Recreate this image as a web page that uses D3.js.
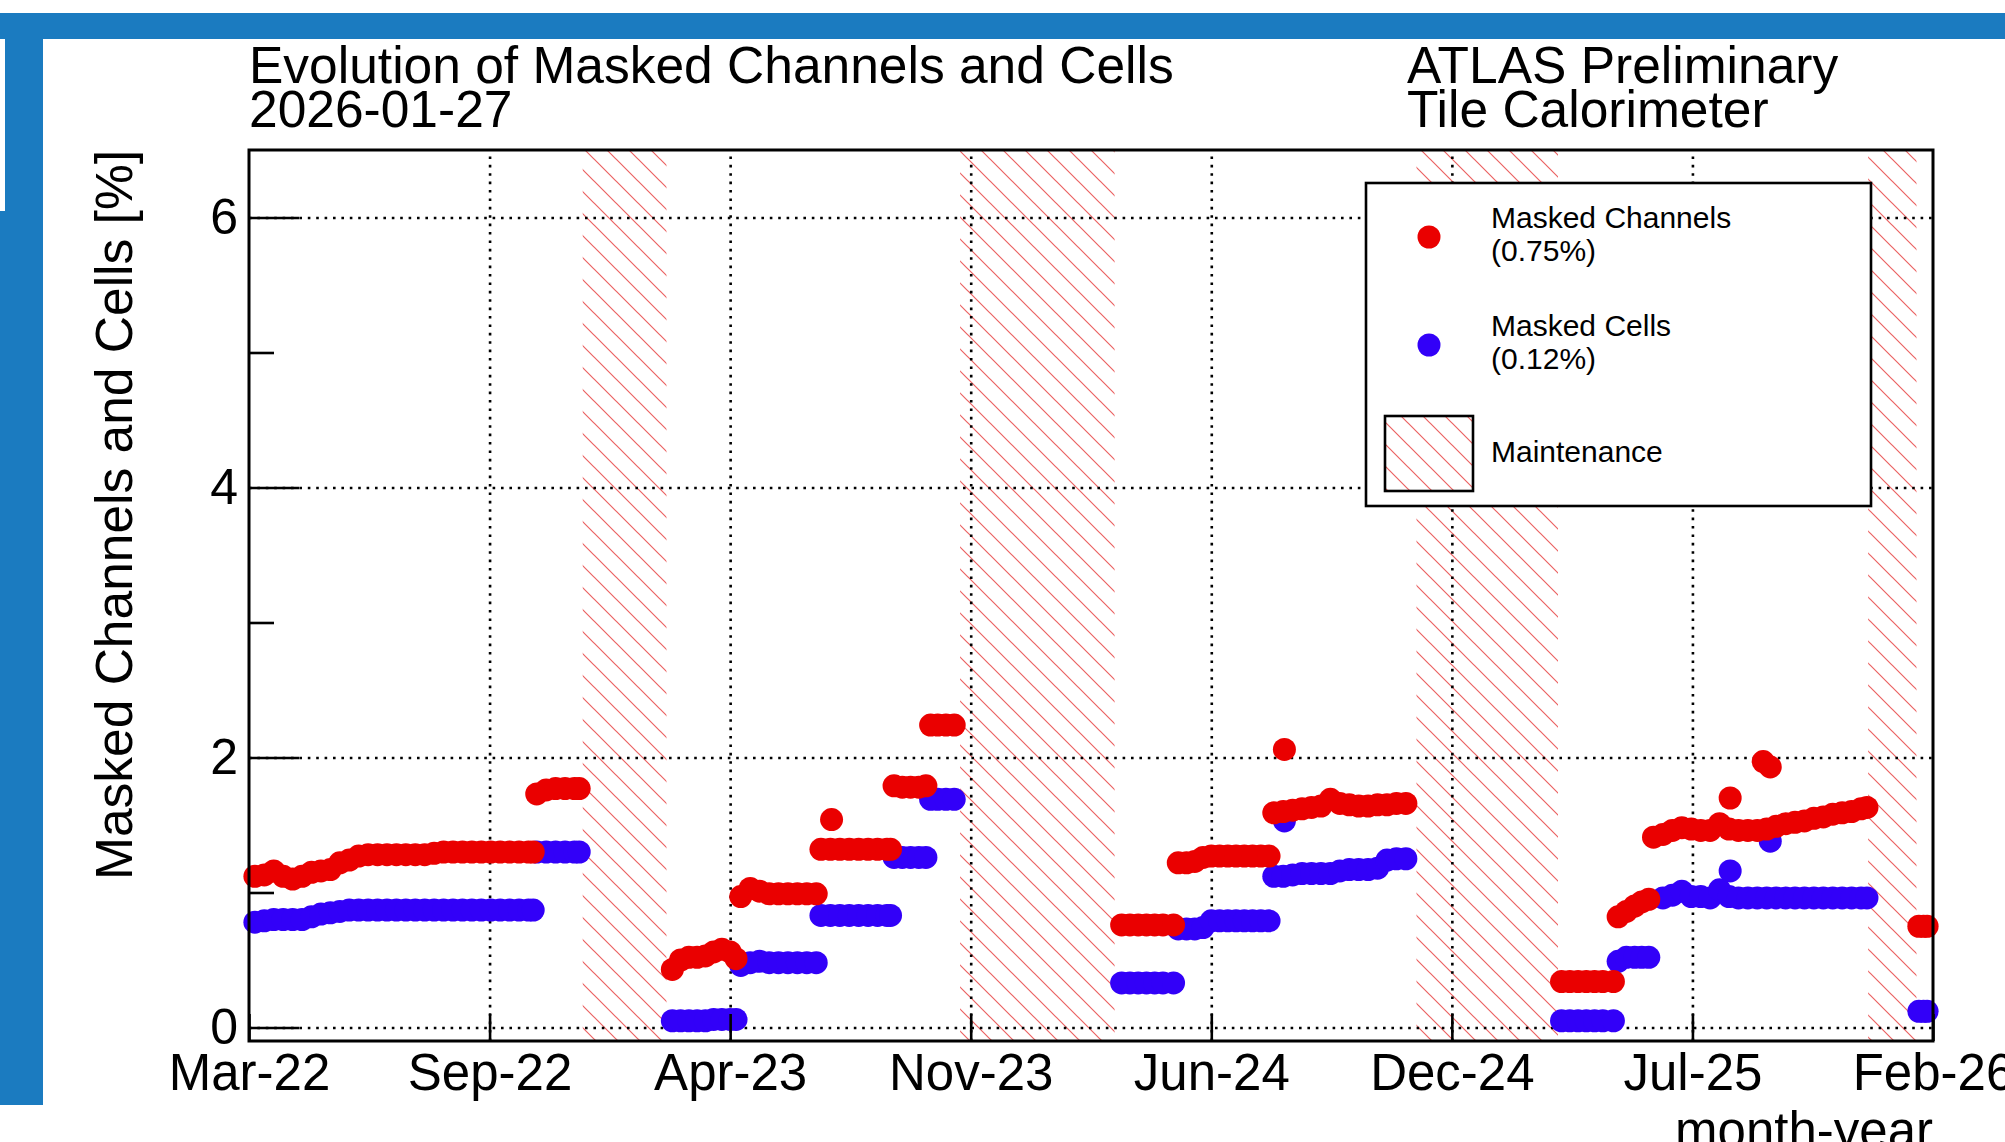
<!DOCTYPE html>
<html><head><meta charset="utf-8">
<script src="https://cdn.jsdelivr.net/npm/d3@7"></script>
<style>
html,body{margin:0;padding:0;background:#fff;overflow:hidden;}
svg{display:block;font-family:"Liberation Sans",Arial,Helvetica,sans-serif;}
</style></head><body>
<svg id="chart" width="2005" height="1142"></svg>
<script>
// ---------------- data ----------------
const dates = [
 "2022-03-15","2022-03-23","2022-03-31","2022-04-08","2022-04-16","2022-04-24","2022-05-02","2022-05-10","2022-05-18","2022-05-26",
 "2022-06-03","2022-06-11","2022-06-19","2022-06-27","2022-07-05","2022-07-13","2022-07-21","2022-07-29","2022-08-06","2022-08-14",
 "2022-08-22","2022-08-30","2022-09-07","2022-09-15","2022-09-23","2022-10-01","2022-10-09","2022-10-17","2022-10-25","2022-11-02","2022-11-06",
 "2022-11-09","2022-11-17","2022-11-25","2022-12-03","2022-12-11","2022-12-15",
 "2023-03-04","2023-03-11","2023-03-18","2023-03-25","2023-04-01","2023-04-08","2023-04-15","2023-04-22","2023-04-27",
 "2023-05-01","2023-05-09","2023-05-17","2023-05-25","2023-06-02","2023-06-10","2023-06-18","2023-06-26","2023-07-04",
 "2023-07-08","2023-07-16","2023-07-17","2023-07-24","2023-08-01","2023-08-09","2023-08-17","2023-08-25","2023-09-02","2023-09-05",
 "2023-09-08","2023-09-15","2023-09-22","2023-09-29","2023-10-05",
 "2023-10-09","2023-10-15","2023-10-22","2023-10-29",
 "2024-03-19","2024-03-26","2024-04-02","2024-04-09","2024-04-16","2024-04-23","2024-05-02",
 "2024-05-06","2024-05-13","2024-05-20","2024-05-27","2024-06-03","2024-06-10","2024-06-17","2024-06-24","2024-07-01","2024-07-08","2024-07-15","2024-07-22",
 "2024-07-26","2024-08-03","2024-08-04","2024-08-11","2024-08-19","2024-08-27","2024-09-04","2024-09-12","2024-09-20","2024-09-28","2024-10-06","2024-10-14","2024-10-22","2024-10-30","2024-11-07","2024-11-15",
 "2025-03-27","2025-04-03","2025-04-10","2025-04-17","2025-04-24","2025-05-01","2025-05-10",
 "2025-05-14","2025-05-21","2025-05-28","2025-06-03","2025-06-09",
 "2025-06-13","2025-06-21","2025-06-29","2025-07-07","2025-07-15","2025-07-23","2025-07-31","2025-08-08","2025-08-16","2025-08-17",
 "2025-08-24","2025-09-01","2025-09-09","2025-09-14","2025-09-17","2025-09-20","2025-09-25","2025-10-03","2025-10-11","2025-10-19",
 "2025-10-27","2025-11-04","2025-11-12","2025-11-20","2025-11-28","2025-12-06","2025-12-11",
 "2026-01-24","2026-01-28","2026-01-31"
];
const channels = [
 1.12,1.13,1.16,1.12,1.10,1.12,1.15,1.16,1.17,1.22,
 1.24,1.27,1.28,1.28,1.28,1.28,1.28,1.28,1.28,1.29,
 1.30,1.30,1.30,1.30,1.30,1.30,1.30,1.30,1.30,1.30,1.30,
 1.73,1.76,1.77,1.77,1.77,1.77,
 0.43,0.50,0.52,0.52,0.53,0.56,0.58,0.56,0.51,
 0.97,1.03,1.01,0.99,0.99,0.99,0.99,0.99,0.99,
 1.32,1.32,1.54,1.32,1.32,1.32,1.32,1.32,1.32,1.32,
 1.79,1.78,1.78,1.78,1.79,
 2.24,2.24,2.24,2.24,
 0.76,0.76,0.76,0.76,0.76,0.76,0.76,
 1.22,1.22,1.23,1.26,1.27,1.27,1.27,1.27,1.27,1.27,1.27,1.27,
 1.59,1.60,2.06,1.61,1.62,1.63,1.64,1.69,1.66,1.65,1.64,1.64,1.65,1.65,1.66,1.66,
 0.34,0.34,0.34,0.34,0.34,0.34,0.34,
 0.82,0.86,0.90,0.93,0.95,
 1.41,1.43,1.46,1.48,1.47,1.46,1.46,1.51,1.47,1.70,
 1.46,1.46,1.46,1.97,1.47,1.93,1.49,1.51,1.52,1.53,
 1.55,1.56,1.58,1.59,1.60,1.62,1.63,
 0.75,0.75,0.75
];
const cells = [
 0.78,0.79,0.80,0.80,0.80,0.80,0.82,0.84,0.85,0.86,
 0.87,0.87,0.87,0.87,0.87,0.87,0.87,0.87,0.87,0.87,
 0.87,0.87,0.87,0.87,0.87,0.87,0.87,0.87,0.87,0.87,0.87,
 1.30,1.30,1.30,1.30,1.30,1.30,
 0.05,0.05,0.05,0.05,0.05,0.06,0.06,0.06,0.06,
 0.46,0.48,0.49,0.48,0.48,0.48,0.48,0.48,0.48,
 0.83,0.83,null,0.83,0.83,0.83,0.83,0.83,0.83,0.83,
 1.26,1.26,1.26,1.26,1.26,
 1.69,1.69,1.69,1.69,
 0.33,0.33,0.33,0.33,0.33,0.33,0.33,
 0.73,0.73,0.73,0.74,0.79,0.79,0.79,0.79,0.79,0.79,0.79,0.79,
 1.12,1.12,1.53,1.13,1.14,1.14,1.14,1.14,1.16,1.17,1.17,1.17,1.18,1.24,1.25,1.25,
 0.05,0.05,0.05,0.05,0.05,0.05,0.05,
 0.49,0.52,0.52,0.52,0.52,
 null,0.96,0.98,1.01,0.97,0.97,0.96,1.02,0.97,1.16,
 0.96,0.96,0.96,null,0.96,1.38,0.96,0.96,0.96,0.96,
 0.96,0.96,0.96,0.96,0.96,0.96,0.96,
 0.12,0.12,0.12
];
const maintStart = ["2022-12-18","2023-11-03","2024-11-24","2025-12-12"];
const maintEnd   = ["2023-02-27","2024-03-13","2025-03-24","2026-01-22"];
const xDomain = ["2022-03-10","2026-02-05"];
const tickLabels = ["Mar-22","Sep-22","Apr-23","Nov-23","Jun-24","Dec-24","Jul-25","Feb-26"];
const yDomain = [-0.1, 6.5];
const yMajor = [0,2,4,6];
const yMinor = [1,3,5];
const seriesNames = ["Masked Channels","Masked Cells"];
const seriesCurrent = ["(0.75%)","(0.12%)"];
const maintName = "Maintenance";
const titleLines = ["Evolution of Masked Channels and Cells","2026-01-27"];
const atlasLines = ["ATLAS Preliminary","Tile Calorimeter"];
const yTitle = "Masked Channels and Cells [%]";
const xTitle = "month-year";

// ---------------- drawing ----------------
const W=2005, H=1142;
const L=249, R=1933, T=150, B=1041;
const RED="#ea0000", BLUE="#3200f8", FRAME="#1b7bc0", HATCH="#eb6262";
const FONT='"Liberation Sans",Arial,Helvetica,sans-serif';
const parse = d3.timeParse("%Y-%m-%d");
const x = d3.scaleTime().domain(xDomain.map(parse)).range([L,R]);
const y = d3.scaleLinear().domain(yDomain).range([B,T]);
const svg = d3.select("#chart");

svg.append("rect").attr("width",W).attr("height",H).attr("fill","#fff");
// blue border of the screenshot
svg.append("rect").attr("x",0).attr("y",13).attr("width",W).attr("height",26).attr("fill",FRAME);
svg.append("rect").attr("x",0).attr("y",13).attr("width",43).attr("height",1105-13).attr("fill",FRAME);
svg.append("rect").attr("x",0).attr("y",39).attr("width",5).attr("height",211-39).attr("fill","#fff");

const defs = svg.append("defs");
const pat = defs.append("pattern").attr("id","hatch").attr("patternUnits","userSpaceOnUse")
  .attr("width",22).attr("height",22).attr("patternTransform","translate(0,5)");
pat.append("path").attr("d","M0,0L22,22M-3,19L3,25M19,-3L25,3")
  .attr("stroke",HATCH).attr("stroke-width",1.2).attr("fill","none");

// maintenance periods
svg.append("g").selectAll("rect").data(maintStart.map((s,i)=>[parse(s),parse(maintEnd[i])])).join("rect")
  .attr("x",d=>x(d[0])).attr("width",d=>x(d[1])-x(d[0]))
  .attr("y",T).attr("height",B-T).attr("fill","url(#hatch)");

// grid
const xTicks = d3.range(tickLabels.length).map(i=>{
  const [a,b]=x.domain(); return new Date(+a + i*(b-a)/(tickLabels.length-1));
});
const gridStyle = g=>{
  g.select(".domain").remove();
  g.selectAll("line").attr("stroke","#000").attr("stroke-width",2.6).attr("stroke-dasharray","2.6 5.8");
};
svg.append("g").attr("transform",`translate(0,${B})`)
  .call(d3.axisBottom(x).tickValues(xTicks.slice(1,-1)).tickSize(-(B-T)).tickFormat(""))
  .call(gridStyle);
svg.append("g").attr("transform",`translate(${L},0)`)
  .call(d3.axisLeft(y).tickValues(yMajor).tickSize(-(R-L)).tickFormat(""))
  .call(gridStyle);

// points
const pts = dates.map((d,i)=>({t:parse(d), ch:channels[i], ce:cells[i]}));
svg.append("g").selectAll("circle").data(pts.filter(p=>p.ce!=null)).join("circle")
  .attr("cx",p=>x(p.t)).attr("cy",p=>y(p.ce)).attr("r",11.5).attr("fill",BLUE);
svg.append("g").selectAll("circle").data(pts.filter(p=>p.ch!=null)).join("circle")
  .attr("cx",p=>x(p.t)).attr("cy",p=>y(p.ch)).attr("r",11.5).attr("fill",RED);

// axes
const styleText = (g,size)=>g.selectAll("text").attr("font-size",size).attr("font-family",FONT).attr("fill","#000");
svg.append("g").attr("transform",`translate(0,${B})`)
  .call(d3.axisBottom(x).tickValues(xTicks).tickFormat((d,i)=>tickLabels[i]).tickSize(-27).tickSizeOuter(0).tickPadding(13))
  .call(g=>g.select(".domain").remove())
  .call(g=>g.selectAll("line").attr("stroke","#000").attr("stroke-width",2.6))
  .call(g=>styleText(g,51));
svg.append("g").attr("transform",`translate(${L},0)`)
  .call(d3.axisLeft(y).tickValues(yMajor).tickFormat(d3.format("d")).tickSize(-50).tickSizeOuter(0).tickPadding(11))
  .call(g=>g.select(".domain").remove())
  .call(g=>g.selectAll("line").attr("stroke","#000").attr("stroke-width",2.6))
  .call(g=>styleText(g,50));
svg.append("g").attr("transform",`translate(${L},0)`)
  .call(d3.axisLeft(y).tickValues(yMinor).tickFormat("").tickSize(-25).tickSizeOuter(0))
  .call(g=>g.select(".domain").remove())
  .call(g=>g.selectAll("line").attr("stroke","#000").attr("stroke-width",2.6));

// frame
svg.append("rect").attr("x",L).attr("y",T).attr("width",R-L).attr("height",B-T)
  .attr("fill","none").attr("stroke","#000").attr("stroke-width",3);

// axis titles
svg.append("text").attr("transform",`translate(132,${T}) rotate(-90)`).attr("text-anchor","end")
  .attr("font-size",51.5).attr("font-family",FONT).text(yTitle);
svg.append("text").attr("x",R).attr("y",1148).attr("text-anchor","end")
  .attr("font-size",51).attr("font-family",FONT).text(xTitle);

// titles
titleLines.forEach((t,i)=>svg.append("text").attr("x",249).attr("y",83+i*44)
  .attr("font-size",51.5).attr("font-family",FONT).text(t));
atlasLines.forEach((t,i)=>svg.append("text").attr("x",1407).attr("y",83+i*44)
  .attr("font-size",51.5).attr("font-family",FONT).text(t));

// legend
const lg = svg.append("g");
lg.append("rect").attr("x",1366).attr("y",183).attr("width",505).attr("height",323)
  .attr("fill","#fff").attr("stroke","#000").attr("stroke-width",2.6);
const lgColors=[RED,BLUE];
seriesNames.forEach((n,i)=>{
  const cy = 237 + i*108;
  lg.append("circle").attr("cx",1429).attr("cy",cy).attr("r",11.5).attr("fill",lgColors[i]);
  lg.append("text").attr("x",1491).attr("y",cy-9).attr("font-size",30).attr("font-family",FONT).text(n);
  lg.append("text").attr("x",1491).attr("y",cy+24).attr("font-size",30).attr("font-family",FONT).text(seriesCurrent[i]);
});
lg.append("rect").attr("x",1385).attr("y",416).attr("width",88).attr("height",75)
  .attr("fill","url(#hatch)").attr("stroke","#000").attr("stroke-width",2.6);
lg.append("text").attr("x",1491).attr("y",462).attr("font-size",30).attr("font-family",FONT).text(maintName);
</script>
</body></html>
